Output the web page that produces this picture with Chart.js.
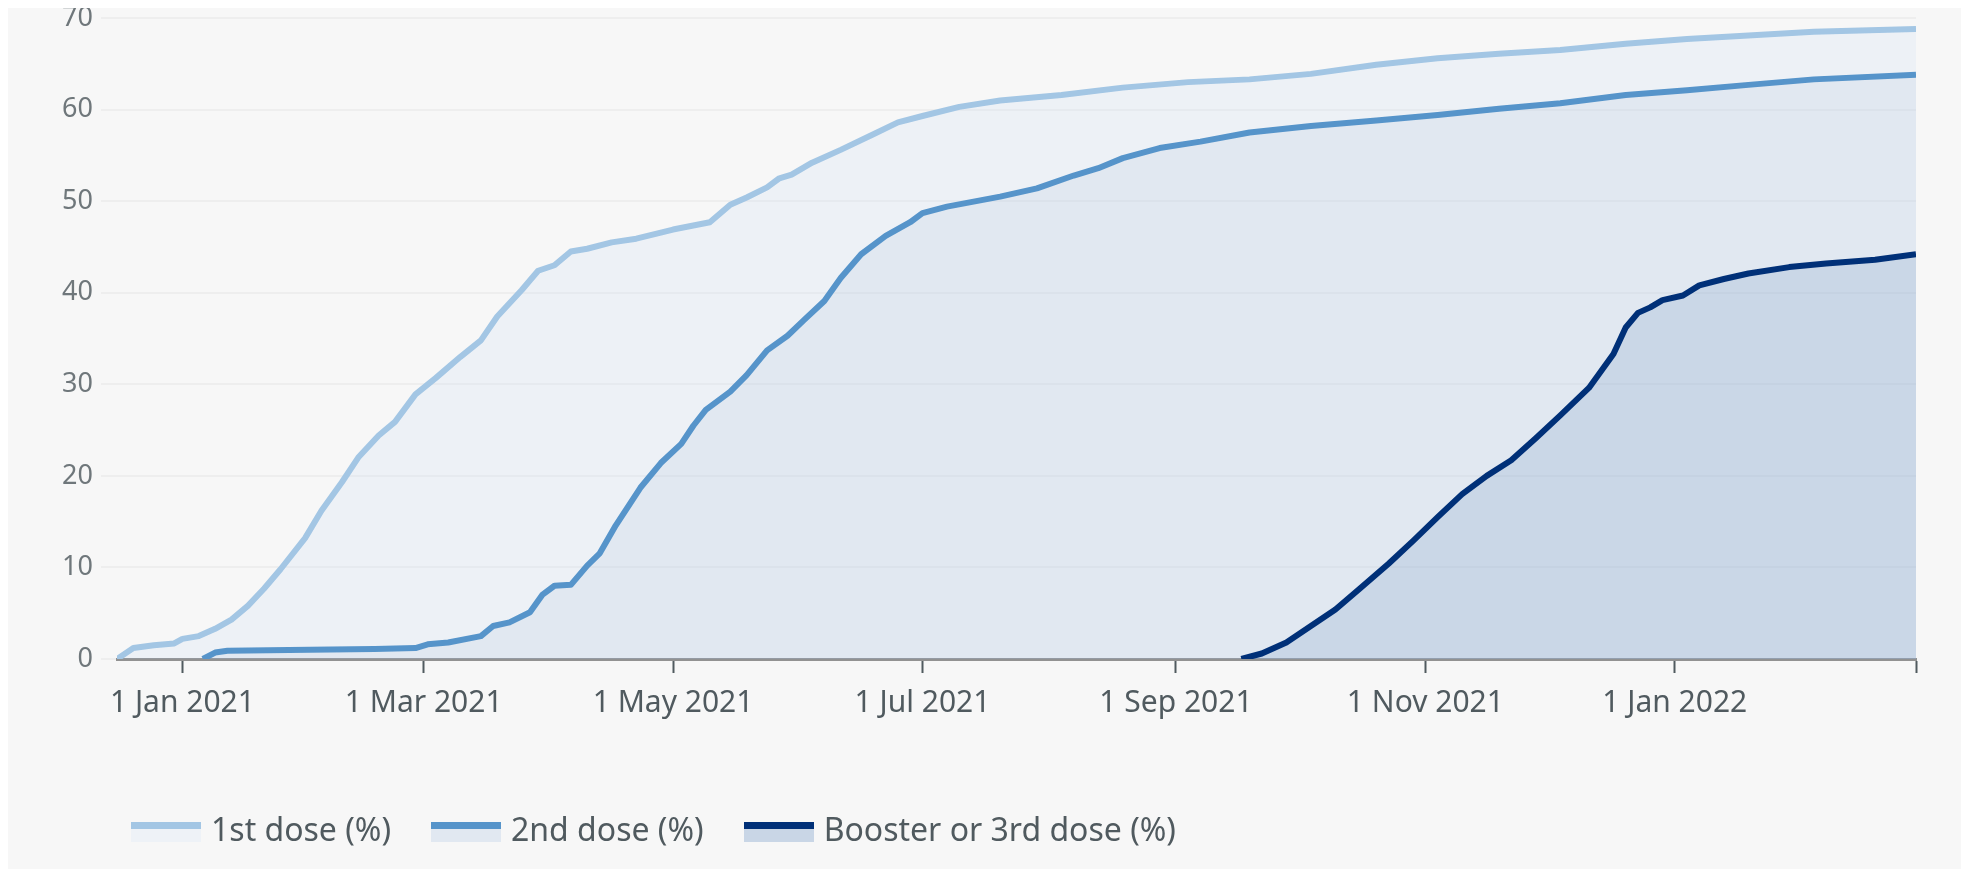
<!DOCTYPE html>
<html>
<head>
<meta charset="utf-8">
<script src="https://cdn.jsdelivr.net/npm/chart.js@4/dist/chart.umd.min.js"></script>
<style>
  html, body { margin: 0; padding: 0; background: #ffffff; }
  #painel { position: absolute; left: 8px; top: 8px; width: 1953px; height: 861px; background: #f7f7f7; }
</style>
</head>
<body>
<div id="painel"><canvas id="graficoVacinas"></canvas></div>
<script>
// eixo x: marcas a cada dois meses
var tickDates  = ['2021-01-01', '2021-03-01', '2021-05-01', '2021-07-01', '2021-09-01', '2021-11-01', '2022-01-01', '2022-03-01'];
var tickLabels = ['1 Jan 2021', '1 Mar 2021', '1 May 2021', '1 Jul 2021', '1 Sep 2021', '1 Nov 2021', '1 Jan 2022', ''];

var seriesNames = ['1st dose (%)', '2nd dose (%)', 'Booster or 3rd dose (%)'];

var dose1Dates = ['2020-12-16','2020-12-20','2020-12-25','2020-12-30','2021-01-01','2021-01-05','2021-01-09','2021-01-13','2021-01-17','2021-01-21',
  '2021-01-25','2021-01-31','2021-02-04','2021-02-09','2021-02-13','2021-02-18','2021-02-22','2021-02-27','2021-03-04','2021-03-10',
  '2021-03-15','2021-03-19','2021-03-25','2021-03-29','2021-04-02','2021-04-06','2021-04-10','2021-04-16','2021-04-22','2021-05-01',
  '2021-05-10','2021-05-15','2021-05-19','2021-05-24','2021-05-27','2021-05-30','2021-06-04','2021-06-11','2021-06-19','2021-06-25',
  '2021-07-01','2021-07-10','2021-07-20','2021-08-04','2021-08-19','2021-09-04','2021-09-19','2021-10-04','2021-10-20','2021-11-04',
  '2021-11-19','2021-12-04','2021-12-20','2022-01-04','2022-01-19','2022-02-04','2022-03-01'];
var dose1Values = [0, 1.2, 1.5, 1.7, 2.2, 2.5, 3.3, 4.3, 5.8, 7.7,
  9.8, 13.2, 16.2, 19.3, 22, 24.4, 25.9, 28.9, 30.7, 33,
  34.8, 37.4, 40.3, 42.4, 43, 44.5, 44.8, 45.5, 45.9, 46.9,
  47.7, 49.6, 50.4, 51.5, 52.5, 52.9, 54.2, 55.6, 57.3, 58.6,
  59.3, 60.3, 61, 61.6, 62.4, 63, 63.3, 63.9, 64.9, 65.6,
  66.1, 66.5, 67.2, 67.7, 68.1, 68.5, 68.8];

var dose2Dates = ['2021-01-06','2021-01-09','2021-01-12','2021-02-01','2021-02-17','2021-02-27','2021-03-02','2021-03-07','2021-03-15','2021-03-18',
  '2021-03-22','2021-03-27','2021-03-30','2021-04-02','2021-04-06','2021-04-10','2021-04-13','2021-04-17','2021-04-23','2021-04-28',
  '2021-05-03','2021-05-06','2021-05-09','2021-05-15','2021-05-19','2021-05-24','2021-05-29','2021-06-02','2021-06-07','2021-06-11',
  '2021-06-16','2021-06-22','2021-06-28','2021-07-01','2021-07-07','2021-07-20','2021-07-29','2021-08-07','2021-08-13','2021-08-19',
  '2021-08-28','2021-09-07','2021-09-19','2021-10-04','2021-10-20','2021-11-04','2021-11-19','2021-12-04','2021-12-20','2022-01-04',
  '2022-01-19','2022-02-04','2022-03-01'];
var dose2Values = [0, 0.7, 0.9, 1.0, 1.1, 1.2, 1.6, 1.8, 2.5, 3.6,
  4.0, 5.1, 7.0, 8.0, 8.1, 10.2, 11.5, 14.6, 18.7, 21.4,
  23.5, 25.5, 27.2, 29.2, 31, 33.7, 35.3, 37, 39.1, 41.6,
  44.2, 46.2, 47.7, 48.7, 49.4, 50.5, 51.4, 52.8, 53.6, 54.7,
  55.8, 56.5, 57.5, 58.2, 58.8, 59.4, 60.1, 60.7, 61.6, 62.1,
  62.7, 63.3, 63.8];

var boosterDates = ['2021-09-17','2021-09-22','2021-09-28','2021-10-04','2021-10-10','2021-10-16','2021-10-23','2021-10-29','2021-11-04','2021-11-10',
  '2021-11-16','2021-11-22','2021-11-28','2021-12-04','2021-12-11','2021-12-17','2021-12-20','2021-12-23','2021-12-26','2021-12-29',
  '2022-01-03','2022-01-07','2022-01-13','2022-01-19','2022-01-29','2022-02-07','2022-02-19','2022-03-01'];
var boosterValues = [0, 0.6, 1.8, 3.6, 5.4, 7.7, 10.4, 12.9, 15.5, 18,
  20, 21.7, 24.1, 26.6, 29.6, 33.3, 36.2, 37.8, 38.4, 39.2,
  39.7, 40.8, 41.5, 42.1, 42.8, 43.2, 43.6, 44.2];

var yTicks = [0, 10, 20, 30, 40, 50, 60, 70];

var corLinha = ['#a3c6e4', '#5694ca', '#003078'];
var corArea  = ['rgba(157,197,247,0.10)', 'rgba(151,175,207,0.15)', 'rgba(145,172,204,0.30)'];
var corLegendaArea = ['#eef2f7', '#e1e8f1', '#c9d6e6'];

var DIA0 = Date.UTC(2021, 0, 1);

function paraDia(s)
{
    var p = s.split('-').map(Number);
    return (Date.UTC(p[0], p[1] - 1, p[2]) - DIA0) / 864e5;
}

function montarPontos(datas, valores)
{
    return datas.map(function (d, i) { return { x: paraDia(d), y: valores[i] }; });
}

function iconeLegenda(i)
{
    var c = document.createElement('canvas');
    c.width = 70; c.height = 20;
    var g = c.getContext('2d');
    g.fillStyle = corLegendaArea[i];
    g.fillRect(0, 0, 70, 20);
    g.fillStyle = corLinha[i];
    g.fillRect(0, 0, 70, 7);
    return c;
}

// a legenda começa mais à direita que o eixo y
var deslocarLegenda =
{
    id: 'deslocarLegenda',
    afterLayout: function (chart)
    {
        if (chart.legend) chart.legend.left = 83;
    }
};

function carregarGrafico()
{
    var series = [montarPontos(dose1Dates, dose1Values), montarPontos(dose2Dates, dose2Values), montarPontos(boosterDates, boosterValues)];

    var datasets = series.map(function (pts, i)
    {
        return {
            label: seriesNames[i],
            data: pts,
            borderColor: corLinha[i],
            backgroundColor: corArea[i],
            borderWidth: 6,
            borderJoinStyle: 'round',
            pointRadius: 0,
            tension: 0,
            fill: 'origin',
            order: 3 - i
        };
    });

    new Chart(document.getElementById('graficoVacinas').getContext('2d'),
    {
        type: 'line',
        data: { datasets: datasets },
        plugins: [deslocarLegenda],
        options:
        {
            responsive: true,
            maintainAspectRatio: false,
            animation: false,
            layout: { padding: { left: 40, right: 45, top: 10, bottom: 11 } },
            plugins:
            {
                tooltip: { enabled: false },
                legend:
                {
                    position: 'bottom',
                    align: 'start',
                    labels:
                    {
                        usePointStyle: true,
                        pointStyleWidth: 58,
                        padding: 46,
                        color: '#505a5f',
                        font: { family: '"Noto Sans", sans-serif', size: 32 },
                        generateLabels: function (chart)
                        {
                            return seriesNames.map(function (n, i)
                            {
                                return { text: n, pointStyle: iconeLegenda(i), fillStyle: corLinha[i], strokeStyle: corLinha[i], lineWidth: 0, datasetIndex: i, fontColor: '#505a5f' };
                            });
                        }
                    }
                }
            },
            scales:
            {
                x:
                {
                    type: 'linear',
                    min: paraDia(dose1Dates[0]),
                    max: paraDia(dose1Dates[dose1Dates.length - 1]),
                    afterBuildTicks: function (scale)
                    {
                        scale.ticks = tickDates.map(function (d) { return { value: paraDia(d) }; });
                    },
                    afterFit: function (scale) { scale.height = 111; },
                    grid: { drawOnChartArea: false, drawTicks: true, tickLength: 14, tickWidth: 2, tickColor: '#505a5f' },
                    border: { display: true, color: '#929292', width: 3 },
                    ticks:
                    {
                        autoSkip: false,
                        maxRotation: 0,
                        padding: 12,
                        color: '#505a5f',
                        font: { family: '"Noto Sans", sans-serif', size: 30 },
                        callback: function (value)
                        {
                            var k = tickDates.map(paraDia).indexOf(value);
                            return k >= 0 ? tickLabels[k] : '';
                        }
                    }
                },
                y:
                {
                    min: 0,
                    max: 70,
                    afterBuildTicks: function (scale)
                    {
                        scale.ticks = yTicks.map(function (v) { return { value: v }; });
                    },
                    afterFit: function (scale) { scale.width = 69; },
                    grid: { color: 'rgba(0,0,0,0.035)', lineWidth: 2, tickLength: 16 },
                    border: { display: false },
                    ticks:
                    {
                        padding: 8,
                        color: '#6f777b',
                        font: { family: '"Noto Sans", sans-serif', size: 27, lineHeight: 0.15 }
                    }
                }
            }
        }
    });
}

carregarGrafico();
</script>
</body>
</html>
